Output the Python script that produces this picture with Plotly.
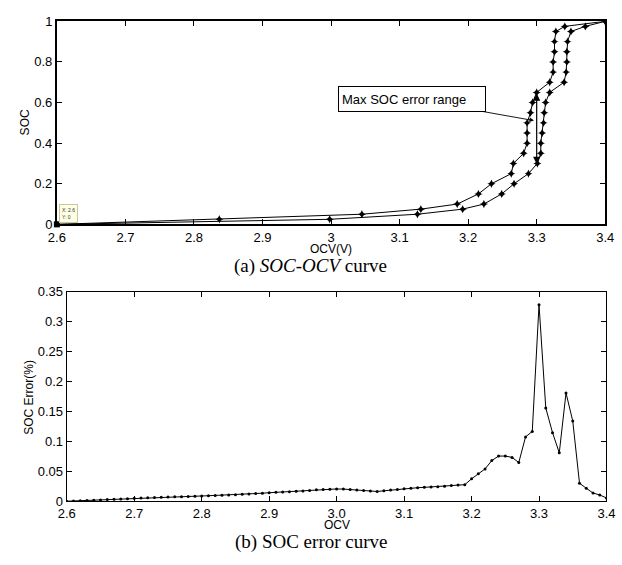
import plotly.graph_objects as go

# ---- (a) SOC-OCV hysteresis curves ----
soc_levels = [0, 0.025, 0.05, 0.075, 0.1, 0.15, 0.2, 0.25, 0.3, 0.35, 0.4, 0.45,
              0.5, 0.55, 0.6, 0.65, 0.7, 0.75, 0.8, 0.85, 0.9, 0.95, 0.975, 1.0]
ocv_left = [2.6, 2.837, 3.045, 3.131, 3.184, 3.215, 3.234, 3.263, 3.266, 3.281, 3.286, 3.286,
            3.286, 3.291, 3.294, 3.300, 3.319, 3.324, 3.324, 3.326, 3.326, 3.328, 3.341, 3.4]
ocv_right = [2.6, 2.998, 3.126, 3.192, 3.223, 3.249, 3.267, 3.288, 3.301, 3.306, 3.306, 3.308,
             3.310, 3.311, 3.313, 3.319, 3.340, 3.343, 3.344, 3.344, 3.345, 3.350, 3.371, 3.4]

# max error range marker (OCV, SOC on both curves)
range_ocv = 3.3
range_soc_low = 0.297
range_soc_high = 0.652

# ---- (b) SOC error vs OCV ----
err_ocv = [2.60, 2.61, 2.62, 2.63, 2.64, 2.65, 2.66, 2.67, 2.68, 2.69,
           2.70, 2.71, 2.72, 2.73, 2.74, 2.75, 2.76, 2.77, 2.78, 2.79,
           2.80, 2.81, 2.82, 2.83, 2.84, 2.85, 2.86, 2.87, 2.88, 2.89,
           2.90, 2.91, 2.92, 2.93, 2.94, 2.95, 2.96, 2.97, 2.98, 2.99,
           3.00, 3.01, 3.02, 3.03, 3.04, 3.05, 3.06, 3.07, 3.08, 3.09,
           3.10, 3.11, 3.12, 3.13, 3.14, 3.15, 3.16, 3.17, 3.18, 3.19,
           3.20, 3.21, 3.22, 3.23, 3.24, 3.25, 3.26, 3.27, 3.28, 3.29,
           3.30, 3.31, 3.32, 3.33, 3.34, 3.35, 3.36, 3.37, 3.38, 3.39, 3.40]
err_val = [0.0000, 0.0005, 0.0009, 0.0014, 0.0018, 0.0022, 0.0027, 0.0032, 0.0038, 0.0043,
           0.0050, 0.0055, 0.0058, 0.0062, 0.0066, 0.0069, 0.0073, 0.0076, 0.0080, 0.0084,
           0.0088, 0.0092, 0.0096, 0.0100, 0.0105, 0.0110, 0.0116, 0.0122, 0.0128, 0.0134,
           0.0142, 0.0148, 0.0154, 0.0160, 0.0166, 0.0172, 0.0180, 0.0190, 0.0198, 0.0202,
           0.0205, 0.0203, 0.0196, 0.0188, 0.0180, 0.0170, 0.0163, 0.0174, 0.0186, 0.0196,
           0.0210, 0.0218, 0.0226, 0.0232, 0.0238, 0.0244, 0.0252, 0.0262, 0.0272, 0.0277,
           0.0375, 0.0460, 0.0540, 0.0680, 0.0755, 0.0755, 0.0733, 0.0647, 0.1075, 0.1168,
           0.3285, 0.1560, 0.1146, 0.0810, 0.1810, 0.1340, 0.0300, 0.0218, 0.0137, 0.0104, 0.0055]

top_xticks = [2.6, 2.7, 2.8, 2.9, 3.0, 3.1, 3.2, 3.3, 3.4]
top_xlabels = ["2.6", "2.7", "2.8", "2.9", "3", "3.1", "3.2", "3.3", "3.4"]
top_yticks = [0, 0.2, 0.4, 0.6, 0.8, 1.0]
top_ylabels = ["0", "0.2", "0.4", "0.6", "0.8", "1"]
bot_xticks = [2.6, 2.7, 2.8, 2.9, 3.0, 3.1, 3.2, 3.3, 3.4]
bot_xlabels = ["2.6", "2.7", "2.8", "2.9", "3.0", "3.1", "3.2", "3.3", "3.4"]
bot_yticks = [0, 0.05, 0.1, 0.15, 0.2, 0.25, 0.3, 0.35]
bot_ylabels = ["0", "0.05", "0.1", "0.15", "0.2", "0.25", "0.3", "0.35"]

W, H = 622, 565
SANS = "Liberation Sans, Arial, sans-serif"
SERIF = "Liberation Serif, Times New Roman, serif"


def px_x(p):
    return p / W


def px_y(p):
    return 1 - p / H


fig = go.Figure()

curve_marker = dict(symbol="star-diamond", size=6, color="black")
fig.add_trace(go.Scatter(x=ocv_left, y=soc_levels, mode="lines+markers",
                         line=dict(color="black", width=1), marker=curve_marker,
                         xaxis="x", yaxis="y", showlegend=False))
fig.add_trace(go.Scatter(x=ocv_right, y=soc_levels, mode="lines+markers",
                         line=dict(color="black", width=1), marker=curve_marker,
                         xaxis="x", yaxis="y", showlegend=False))
# data cursor point
fig.add_trace(go.Scatter(x=[ocv_left[0]], y=[soc_levels[0]], mode="markers",
                         marker=dict(symbol="square", size=6, color="black"),
                         xaxis="x", yaxis="y", showlegend=False, cliponaxis=False))

fig.add_trace(go.Scatter(x=err_ocv, y=err_val, mode="lines+markers",
                         line=dict(color="black", width=1),
                         marker=dict(symbol="circle", size=3, color="black"),
                         xaxis="x2", yaxis="y2", showlegend=False))

axis_common = dict(showgrid=False, zeroline=False, showline=True, linecolor="black",
                   mirror="ticks", ticks="inside", ticklen=5, tickcolor="black",
                   ticklabeloverflow="allow",
                   tickfont=dict(family=SANS, size=13, color="black"))

fig.update_layout(
    width=W, height=H,
    margin=dict(l=0, r=0, t=0, b=0),
    paper_bgcolor="white", plot_bgcolor="white",
    xaxis=dict(domain=[px_x(49.3), px_x(614)], range=[2.6, 3.4], anchor="y",
               tickvals=top_xticks, ticktext=top_xlabels, linewidth=1.8, tickwidth=1.2,
               **axis_common),
    yaxis=dict(domain=[px_y(223.3), px_y(14.7)], range=[0, 1], anchor="x",
               tickvals=top_yticks, ticktext=top_ylabels, linewidth=1.8, tickwidth=1.2,
               **axis_common),
    xaxis2=dict(domain=[px_x(59.5), px_x(615.3)], range=[2.6, 3.4], anchor="y2",
                tickvals=bot_xticks, ticktext=bot_xlabels, linewidth=1.3, tickwidth=1,
                **axis_common),
    yaxis2=dict(domain=[px_y(507.7), px_y(292.7)], range=[0, 0.35], anchor="x2",
                tickvals=bot_yticks, ticktext=bot_ylabels, linewidth=1.3, tickwidth=1,
                **axis_common),
)

annotations = [
    # double arrow marking the largest SOC gap
    dict(x=range_ocv, y=range_soc_low, ax=range_ocv, ay=range_soc_high,
         xref="x", yref="y", axref="x", ayref="y", text="", showarrow=True,
         arrowside="end+start", arrowhead=2, arrowsize=1.2, arrowwidth=1.2,
         arrowcolor="black"),
    # callout box
    dict(x=3.296, y=0.511, ax=3.118, ay=0.618, xref="x", yref="y",
         axref="x", ayref="y", text="Max SOC error range", showarrow=True,
         arrowhead=2, arrowsize=1, arrowwidth=0.9, arrowcolor="black",
         font=dict(family=SANS, size=13, color="black"),
         bordercolor="black", borderwidth=1, bgcolor="white", borderpad=3,
         width=140, height=18, align="left"),
    # data cursor label
    dict(x=px_x(52), y=px_y(212.5), xref="paper", yref="paper",
         xanchor="left", yanchor="middle", showarrow=False,
         text="X: 2.6<br>Y: 0", align="left",
         font=dict(family=SANS, size=5, color="#333333"),
         bgcolor="#ffffe6", bordercolor="#c8c8a0", borderwidth=1, borderpad=2),
    # axis titles
    dict(x=px_x(331.7), y=px_y(249), xref="paper", yref="paper", showarrow=False,
         text="OCV(V)", font=dict(family=SANS, size=12, color="black"),
         xanchor="center", yanchor="middle"),
    dict(x=px_x(16), y=px_y(119), xref="paper", yref="paper", showarrow=False,
         text="SOC", textangle=-90, font=dict(family=SANS, size=12, color="black"),
         xanchor="center", yanchor="middle"),
    dict(x=px_x(337.5), y=px_y(532), xref="paper", yref="paper", showarrow=False,
         text="OCV", font=dict(family=SANS, size=12, color="black"),
         xanchor="center", yanchor="middle"),
    dict(x=px_x(21), y=px_y(401), xref="paper", yref="paper", showarrow=False,
         text="SOC Error(%)", textangle=-90, font=dict(family=SANS, size=12, color="black"),
         xanchor="center", yanchor="middle"),
    # captions
    dict(x=px_x(310), y=px_y(266), xref="paper", yref="paper", showarrow=False,
         text="(a) <i>SOC-OCV</i> curve", font=dict(family=SERIF, size=19, color="black"),
         xanchor="center", yanchor="middle"),
    dict(x=px_x(311), y=px_y(550), xref="paper", yref="paper", showarrow=False,
         text="(b) SOC error curve", font=dict(family=SERIF, size=19, color="black"),
         xanchor="center", yanchor="middle"),
]
fig.update_layout(annotations=annotations)

fig.write_html("out.html")
